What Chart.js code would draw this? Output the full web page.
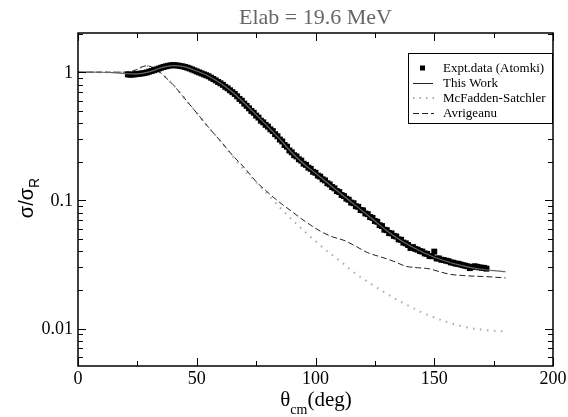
<!DOCTYPE html>
<html>
<head>
<meta charset="utf-8">
<script src="https://cdn.jsdelivr.net/npm/chart.js@4/dist/chart.umd.min.js"></script>
<style>
  html, body { margin: 0; padding: 0; background: #fff; }
  #chart { display: block; }
</style>
</head>
<body>
<canvas id="chart" width="568" height="417"></canvas>
<script>
// Elastic scattering ratio to Rutherford, Elab = 19.6 MeV

const chartTitle = "Elab = 19.6 MeV";
const legendLabels = ["Expt.data (Atomki)", "This Work", "McFadden-Satchler", "Avrigeanu"];

const xTickValues = [0, 50, 100, 150, 200];
const xMinorTicks = [25, 75, 125, 175];
const yTickValues = [1, 0.1, 0.01];
const yTickLabels = ["1", "0.1", "0.01"];

// experimental points (Atomki)
const exptTheta = [
  21, 22, 23, 24, 25, 26, 27, 28, 29, 30,
  31, 32, 33, 34, 35, 36, 37, 38, 39, 40,
  41, 42, 43, 44, 45, 46, 47, 48, 49, 50,
  51, 52, 53, 54, 55, 56, 57, 58, 59, 60,
  61, 62, 63, 64, 65, 66, 67, 68, 69, 70,
  71, 72, 73, 74, 75, 76, 77, 78, 79, 80,
  81, 82, 83, 84, 85, 86, 87, 88, 89, 90,
  91, 92, 93, 94, 95, 96, 97, 98, 99, 100,
  101, 102, 103, 104, 105, 106, 107, 108, 109, 110,
  111, 112, 113, 114, 115, 116, 117, 118, 119, 120,
  121, 122, 123, 124, 125, 126, 127, 128, 129, 130,
  131, 132, 133, 134, 135, 136, 137, 138, 139, 140,
  141, 142, 143, 144, 145, 146, 147, 148, 149, 150,
  151, 152, 153, 154, 155, 156, 157, 158, 159, 160,
  161, 162, 163, 164, 165, 166, 167, 168, 169, 170,
  171, 172
];
const exptRatio = [
  0.960, 0.955, 0.958, 0.962, 0.968, 0.972, 0.978, 0.985, 0.995, 1.008,
  1.022, 1.036, 1.050, 1.066, 1.082, 1.097, 1.110, 1.121, 1.129, 1.134,
  1.131, 1.126, 1.118, 1.110, 1.098, 1.084, 1.068, 1.050, 1.032, 1.012,
  0.996, 0.978, 0.962, 0.946, 0.928, 0.905, 0.884, 0.862, 0.838, 0.818,
  0.796, 0.768, 0.748, 0.722, 0.698, 0.676, 0.648, 0.618, 0.598, 0.568,
  0.546, 0.522, 0.498, 0.482, 0.458, 0.442, 0.418, 0.406, 0.388, 0.376,
  0.358, 0.347, 0.328, 0.316, 0.298, 0.288, 0.270, 0.262, 0.245, 0.237,
  0.225, 0.220, 0.209, 0.204, 0.193, 0.189, 0.180, 0.176, 0.167, 0.164,
  0.156, 0.153, 0.146, 0.143, 0.136, 0.133, 0.127, 0.124, 0.118, 0.116,
  0.110, 0.108, 0.103, 0.101, 0.096, 0.095, 0.090, 0.089, 0.084, 0.0835,
  0.079, 0.078, 0.074, 0.073, 0.069, 0.068, 0.064, 0.063, 0.059, 0.0585,
  0.0555, 0.0552, 0.0528, 0.0522, 0.0496, 0.0492, 0.0468, 0.0462, 0.0448, 0.0425,
  0.0432, 0.0418, 0.0412, 0.0402, 0.0398, 0.0385, 0.0382, 0.0368, 0.0366, 0.0398,
  0.0352, 0.0352, 0.0344, 0.0342, 0.0338, 0.0335, 0.0328, 0.0326, 0.0321, 0.0320,
  0.0316, 0.0312, 0.0309, 0.0306, 0.0296, 0.0302, 0.0306, 0.0303, 0.0300, 0.0298,
  0.0297, 0.0293
];

// This Work
const thisWorkTheta = [0, 5, 10, 15, 20, 25, 30, 35, 40, 45, 50, 55, 60, 65, 70, 75, 80, 85, 90, 95,
  100, 105, 110, 115, 120, 125, 130, 135, 140, 145, 150, 155, 160, 165, 170, 175, 180];
const thisWorkRatio = [1.0, 1.0, 0.998, 0.99, 0.975, 0.97, 1.005, 1.08, 1.125, 1.1, 1.02, 0.93, 0.82, 0.7, 0.575, 0.465, 0.375, 0.3, 0.236, 0.193,
  0.163, 0.137, 0.115, 0.097, 0.082, 0.069, 0.058, 0.05, 0.044, 0.0395, 0.036, 0.0335, 0.0315, 0.030, 0.029, 0.0283, 0.0278];

// McFadden-Satchler
const mcfTheta = [0, 10, 20, 25, 27, 29, 31, 33, 35, 38, 40, 45, 50, 55, 60, 65, 70, 75, 80, 85, 90, 95,
  100, 105, 110, 115, 120, 125, 130, 135, 140, 145, 150, 155, 160, 165, 170, 175, 180];
const mcfRatio = [1.0, 1.0, 1.0, 1.05, 1.1, 1.12, 1.1, 1.05, 0.98, 0.87, 0.8, 0.62, 0.48, 0.37, 0.29, 0.222, 0.172, 0.138, 0.111, 0.088, 0.071, 0.058,
  0.048, 0.040, 0.034, 0.0285, 0.0245, 0.0213, 0.0187, 0.0165, 0.0148, 0.0133, 0.0122, 0.0113, 0.0106, 0.0101, 0.0098, 0.0096, 0.0095];

// Avrigeanu
const avrTheta = [0, 10, 20, 25, 27, 29, 31, 33, 35, 38, 40, 45, 50, 55, 60, 65, 70, 75, 80, 85, 90, 94,
  98, 102, 107, 112, 117, 122, 127, 133, 138, 143, 148, 152, 157, 162, 167, 172, 176, 180];
const avrRatio = [1.0, 1.0, 1.0, 1.05, 1.1, 1.12, 1.1, 1.05, 0.98, 0.87, 0.8, 0.62, 0.48, 0.37, 0.29, 0.225, 0.18, 0.14, 0.115, 0.096, 0.082, 0.072,
  0.064, 0.0575, 0.052, 0.0487, 0.0438, 0.039, 0.0364, 0.0334, 0.0306, 0.0298, 0.0292, 0.0278, 0.0264, 0.0259, 0.0256, 0.0254, 0.0251, 0.0248];

const toXY = (xs, ys) => xs.map((x, i) => ({ x: x, y: ys[i] }));

const SERIF = "'Liberation Serif', 'DejaVu Serif', serif";
const SANS = "'Liberation Sans', 'DejaVu Sans', sans-serif";

// frame, inward ticks, tick labels, titles and legend
const decorPlugin = {
  id: "decor",
  afterDraw(chart) {
    const { ctx, chartArea: a, scales } = chart;
    const xs = scales.x, ys = scales.y;
    ctx.save();
    ctx.strokeStyle = "#000";
    ctx.lineWidth = 1.5;
    ctx.strokeRect(a.left, a.top, a.right - a.left, a.bottom - a.top);

    ctx.lineWidth = 1;
    ctx.beginPath();
    const xTick = (v, len) => {
      const px = Math.round(xs.getPixelForValue(v)) + 0.5;
      ctx.moveTo(px, a.bottom); ctx.lineTo(px, a.bottom - len);
      ctx.moveTo(px, a.top); ctx.lineTo(px, a.top + len);
    };
    const yTick = (v, len) => {
      const py = Math.round(ys.getPixelForValue(v)) + 0.5;
      ctx.moveTo(a.left, py); ctx.lineTo(a.left + len, py);
      ctx.moveTo(a.right, py); ctx.lineTo(a.right - len, py);
    };
    xTickValues.forEach(v => xTick(v, 8));
    xMinorTicks.forEach(v => xTick(v, 5));
    [0.001, 0.01, 0.1, 1].forEach(dec => {
      for (let m = 1; m <= 9; m++) {
        const v = dec * m;
        if (v < ys.min || v > ys.max) continue;
        yTick(v, m === 1 ? 8 : 5);
      }
    });
    ctx.stroke();

    // tick labels
    ctx.fillStyle = "#000";
    ctx.font = "18px " + SERIF;
    ctx.textAlign = "center";
    ctx.textBaseline = "top";
    xTickValues.forEach(v => ctx.fillText(String(v), xs.getPixelForValue(v), a.bottom + 4));
    ctx.textAlign = "right";
    ctx.textBaseline = "middle";
    yTickValues.forEach((v, i) => ctx.fillText(yTickLabels[i], a.left - 5, ys.getPixelForValue(v) + 1));

    // chart title
    ctx.fillStyle = "#666";
    ctx.font = "22px " + SERIF;
    ctx.textAlign = "center";
    ctx.textBaseline = "alphabetic";
    ctx.fillText(chartTitle, (a.left + a.right) / 2, 24);

    // x axis title: theta_cm(deg)
    ctx.fillStyle = "#000";
    ctx.textAlign = "left";
    ctx.textBaseline = "alphabetic";
    ctx.font = "21px " + SERIF;
    const th = "\u03b8";
    const wTh = ctx.measureText(th).width;
    ctx.font = "14px " + SERIF;
    const wCm = ctx.measureText("cm").width;
    ctx.font = "21px " + SERIF;
    const wDeg = ctx.measureText("(deg)").width;
    let x0 = 316 - (wTh + wCm + wDeg) / 2;
    ctx.fillText(th, x0, 406);
    ctx.font = "14px " + SERIF;
    ctx.fillText("cm", x0 + wTh, 414);
    ctx.font = "21px " + SERIF;
    ctx.fillText("(deg)", x0 + wTh + wCm, 406);

    // y axis title: sigma/sigma_R
    ctx.translate(33, 198);
    ctx.rotate(-Math.PI / 2);
    ctx.font = "20px " + SANS;
    const s1 = "\u03c3/\u03c3";
    const w1 = ctx.measureText(s1).width;
    ctx.font = "14px " + SANS;
    const wR = ctx.measureText("R").width;
    const yx = -(w1 + wR) / 2;
    ctx.font = "20px " + SANS;
    ctx.fillText(s1, yx, 0);
    ctx.font = "14px " + SANS;
    ctx.fillText("R", yx + w1, 6);
    ctx.setTransform(1, 0, 0, 1, 0, 0);

    // legend box
    const lx = 408, ly = 53, lw = a.right - 408, lh = 71;
    ctx.fillStyle = "#fff";
    ctx.fillRect(lx, ly, lw, lh);
    ctx.strokeStyle = "#000";
    ctx.lineWidth = 1;
    ctx.strokeRect(lx + 0.5, ly + 0.5, lw - 1, lh - 1);
    const rows = [68, 83, 98, 113];
    ctx.font = "13px " + SERIF;
    ctx.textBaseline = "middle";
    ctx.textAlign = "left";
    ctx.fillStyle = "#000";
    legendLabels.forEach((t, i) => ctx.fillText(t, 443, rows[i] + 1));
    // symbols
    ctx.fillRect(420, rows[0] - 2.5, 5, 5);
    ctx.beginPath();
    ctx.strokeStyle = "#222";
    ctx.moveTo(413, rows[1] + 0.5); ctx.lineTo(433, rows[1] + 0.5);
    ctx.stroke();
    ctx.beginPath();
    ctx.strokeStyle = "#aaa";
    ctx.lineWidth = 2;
    ctx.setLineDash([1.5, 5]);
    ctx.moveTo(413, rows[2]); ctx.lineTo(434, rows[2]);
    ctx.stroke();
    ctx.beginPath();
    ctx.strokeStyle = "#222";
    ctx.lineWidth = 1;
    ctx.setLineDash([6, 3]);
    ctx.moveTo(413, rows[3] + 0.5); ctx.lineTo(434, rows[3] + 0.5);
    ctx.stroke();
    ctx.restore();
  }
};

new Chart(document.getElementById("chart"), {
  type: "scatter",
  data: {
    datasets: [
      {
        label: legendLabels[0],
        data: toXY(exptTheta, exptRatio),
        pointStyle: "rect",
        pointRadius: 4.2,
        backgroundColor: "#000",
        borderColor: "#000",
        borderWidth: 0,
        showLine: false,
        order: 2
      },
      {
        label: legendLabels[1],
        data: toXY(thisWorkTheta, thisWorkRatio),
        showLine: true,
        pointRadius: 0,
        borderColor: "#666",
        borderWidth: 1.2,
        cubicInterpolationMode: "monotone",
        order: 1
      },
      {
        label: legendLabels[2],
        data: toXY(mcfTheta, mcfRatio),
        showLine: true,
        pointRadius: 0,
        borderColor: "#aaa",
        borderWidth: 2,
        borderDash: [1.5, 5.5],
        cubicInterpolationMode: "monotone",
        order: 4
      },
      {
        label: legendLabels[3],
        data: toXY(avrTheta, avrRatio),
        showLine: true,
        pointRadius: 0,
        borderColor: "#222",
        borderWidth: 1,
        borderDash: [6, 3],
        cubicInterpolationMode: "monotone",
        order: 3
      }
    ]
  },
  options: {
    responsive: false,
    animation: false,
    devicePixelRatio: 1,
    layout: { padding: { left: 78, right: 15, top: 33, bottom: 51 } },
    plugins: {
      legend: { display: false },
      title: { display: false },
      tooltip: { enabled: false }
    },
    scales: {
      x: { type: "linear", min: 0, max: 200, display: false },
      y: { type: "logarithmic", min: 0.0051, max: 2.02, display: false }
    }
  },
  plugins: [decorPlugin]
});
</script>
</body>
</html>
